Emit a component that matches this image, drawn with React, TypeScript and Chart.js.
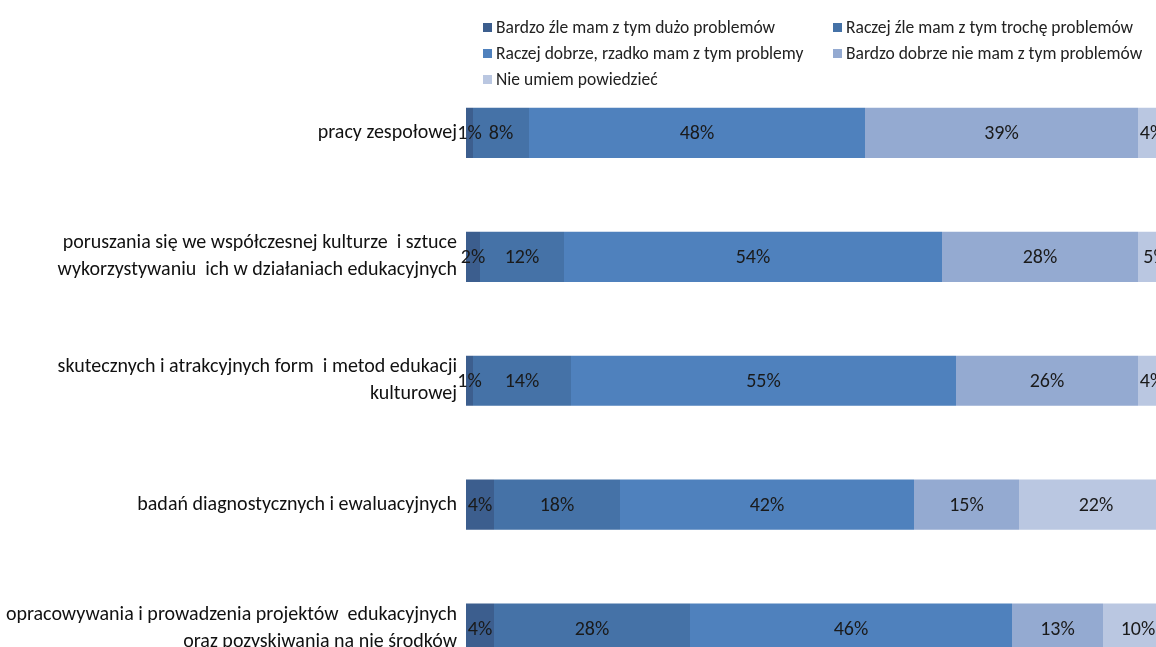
import React, { useEffect, useRef } from "react";
import { Chart, registerables } from "chart.js";

Chart.register(...registerables);

const categories: string[][] = [
  ["pracy zespołowej"],
  ["poruszania się we współczesnej kulturze  i sztuce", "wykorzystywaniu  ich w działaniach edukacyjnych"],
  ["skutecznych i atrakcyjnych form  i metod edukacji", "kulturowej"],
  ["badań diagnostycznych i ewaluacyjnych"],
  ["opracowywania i prowadzenia projektów  edukacyjnych", "oraz pozyskiwania na nie środków"],
];

const seriesNames: string[] = [
  "Bardzo źle mam z tym dużo problemów",
  "Raczej źle mam z tym trochę problemów",
  "Raczej dobrze, rzadko mam z tym problemy",
  "Bardzo dobrze nie mam z tym problemów",
  "Nie umiem powiedzieć",
];

const bardzoZle: number[] = [1, 2, 1, 4, 4];
const raczejZle: number[] = [8, 12, 14, 18, 28];
const raczejDobrze: number[] = [48, 54, 55, 42, 46];
const bardzoDobrze: number[] = [39, 28, 26, 15, 13];
const nieUmiem: number[] = [4, 5, 4, 22, 10];

const seriesColors: string[] = ["#3C5E8E", "#4572A7", "#4F81BD", "#94AAD1", "#BAC7E1"];

const FONT = "Carlito, 'Liberation Sans Narrow', 'Arial Narrow', sans-serif";

const labelPlugin = {
  id: "segLabels",
  afterDatasetsDraw(chart: any) {
    const ctx = chart.ctx;
    ctx.save();
    ctx.font = `20px ${FONT}`;
    ctx.fillStyle = "#1a1a1a";
    ctx.textAlign = "center";
    ctx.textBaseline = "middle";
    chart.data.datasets.forEach((ds: any, di: number) => {
      const meta = chart.getDatasetMeta(di);
      meta.data.forEach((el: any, i: number) => {
        const v = ds.data[i];
        const cx = (el.x + el.base) / 2;
        ctx.fillText(`${v}%`, cx, el.y + 1);
      });
    });
    ctx.restore();
  },
};

export default function App() {
  const ref = useRef<HTMLCanvasElement | null>(null);

  useEffect(() => {
    if (!ref.current) return;
    const data = [bardzoZle, raczejZle, raczejDobrze, bardzoDobrze, nieUmiem];
    const chart = new Chart(ref.current, {
      type: "bar",
      data: {
        labels: categories,
        datasets: data.map((d, i) => ({
          label: seriesNames[i],
          data: d,
          backgroundColor: seriesColors[i],
          borderWidth: 0,
          barPercentage: 1,
          categoryPercentage: 0.405,
        })),
      },
      options: {
        indexAxis: "y",
        animation: false,
        responsive: false,
        maintainAspectRatio: false,
        layout: { padding: { top: 71, right: 4, bottom: 1, left: 0 } },
        plugins: {
          legend: { display: false },
          tooltip: { enabled: false },
        },
        scales: {
          x: { stacked: true, min: 0, max: 100, display: false },
          y: {
            stacked: true,
            grid: { display: false, drawTicks: false },
            border: { display: false },
            ticks: {
              color: "#111",
              padding: 9,
              font: { family: FONT, size: 20, lineHeight: 1.35 },
            },
            afterFit: (scale: any) => {
              scale.width = 466;
            },
          },
        },
      } as any,
      plugins: [labelPlugin],
    });
    return () => chart.destroy();
  }, []);

  const legendPos = [
    { x: 483, y: 27 },
    { x: 833, y: 27 },
    { x: 483, y: 53 },
    { x: 833, y: 53 },
    { x: 483, y: 79 },
  ];

  return (
    <div
      style={{
        position: "fixed",
        left: 0,
        top: 0,
        width: 1156,
        height: 647,
        overflow: "hidden",
        background: "#fff",
      }}
    >
      <canvas ref={ref} width={1170} height={713} style={{ position: "absolute", left: 0, top: 0, width: 1170, height: 713 }} />
      {seriesNames.map((name, i) => (
        <div
          key={name}
          style={{
            position: "absolute",
            left: legendPos[i].x,
            top: legendPos[i].y - 12,
            height: 24,
            display: "flex",
            alignItems: "center",
            whiteSpace: "nowrap",
            fontFamily: FONT,
            fontSize: 17.5,
            color: "#222",
          }}
        >
          <span style={{ display: "inline-block", width: 9, height: 9, background: seriesColors[i], marginRight: 4 }} />
          <span>{name}</span>
        </div>
      ))}
    </div>
  );
}
